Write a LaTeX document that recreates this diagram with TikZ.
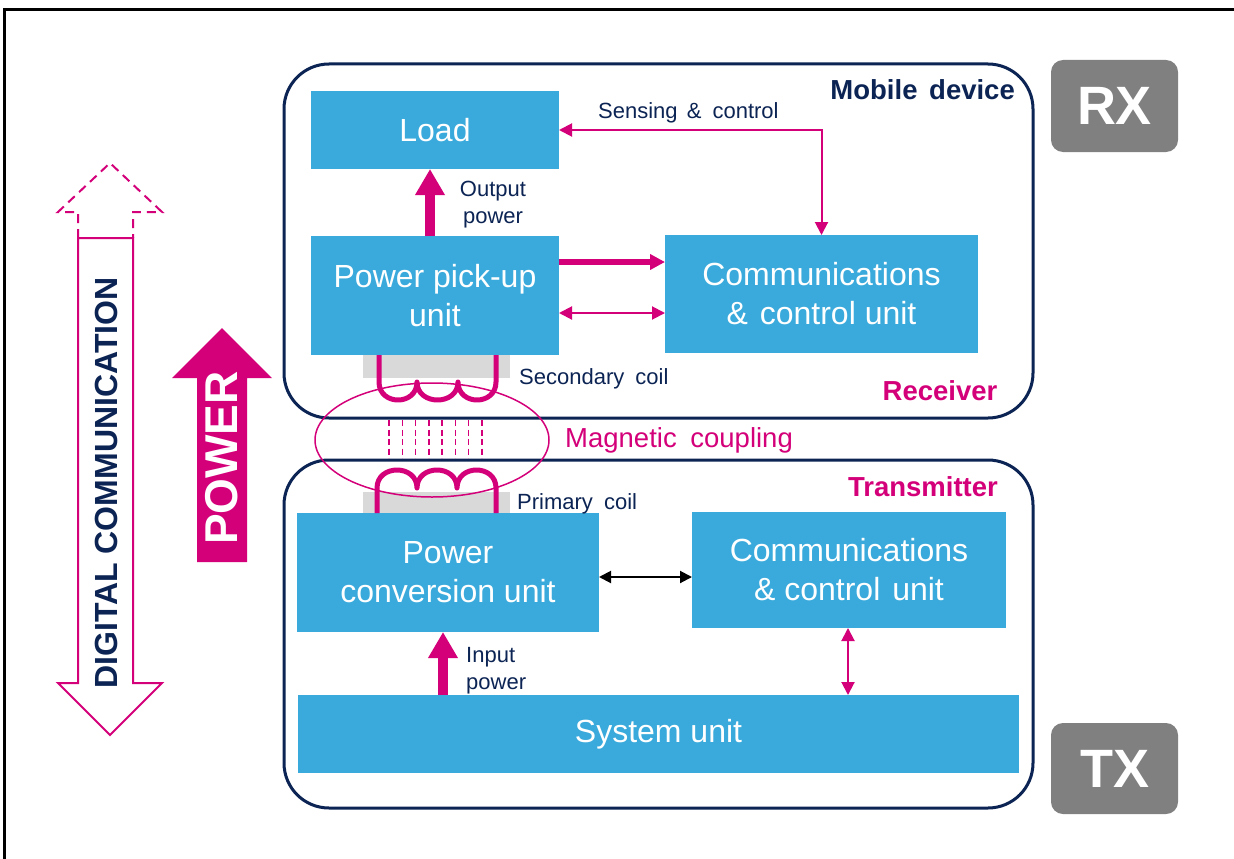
\documentclass[tikz,border=0pt]{standalone}
\usepackage{fontspec}
\setmainfont{Liberation Sans}
\usetikzlibrary{arrows.meta}
\definecolor{stblue}{RGB}{58,170,220}
\definecolor{stnavy}{RGB}{12,36,84}
\definecolor{stmag}{RGB}{212,0,122}
\definecolor{coilgray}{RGB}{217,217,217}
\definecolor{badgegray}{RGB}{128,128,128}
\begin{document}
\begin{tikzpicture}[x=1pt,y=-1pt,
  blk/.style={fill=stblue, text=white, inner sep=0pt, outer sep=0pt, align=center, font=\fontsize{32}{39}\selectfont},
  lbl/.style={text=stnavy, inner sep=0pt, font=\fontsize{22}{27}\selectfont},
  boldlbl/.style={inner sep=0pt, font=\fontsize{27.5}{30}\selectfont\bfseries},
  badge/.style={fill=badgegray, rounded corners=12pt, text=white, minimum width=127pt, minimum height=92pt, inner sep=0pt, font=\fontsize{54}{60}\selectfont\bfseries},
  container/.style={draw=stnavy, line width=3pt, rounded corners=45pt},
  fatarrow/.style={draw=stmag, line width=10pt, -{Triangle[width=28pt,length=26pt]}},
  medarrow/.style={draw=stmag, line width=5.5pt, -{Triangle[width=15pt,length=15pt]}},
  thinmag/.style={draw=stmag, line width=2pt, {Triangle[width=13pt,length=13pt]}-{Triangle[width=13pt,length=13pt]}},
  blackdbl/.style={draw=black, line width=2pt, {Triangle[width=12pt,length=12pt]}-{Triangle[width=12pt,length=12pt]}},
  coil/.style={draw=stmag, line width=5pt, line join=round},
  outline/.style={draw=stmag, line width=2pt, line join=miter}
]
\useasboundingbox (0,0) rectangle (1234,859);
\fill[white] (0,0) rectangle (1234,859);
% frame
\draw[line width=3pt, line cap=rect] (4.5,859) -- (4.5,10) -- (1234,10);

% containers
\draw[container] (284,64) rectangle (1033,418);
\draw[container] (284,460) rectangle (1033,808);

% blocks
\node[blk, minimum width=248pt, minimum height=78pt] (load) at (435,130) {Load};
\node[blk, minimum width=248pt, minimum height=119pt] (ppu) at (435,295.5) {Power pick-up\\unit};
\node[blk, minimum width=313pt, minimum height=118pt] (crx) at (821.5,294) {Communications\\\&\hspace{3pt} control unit};
\node[blk, minimum width=302pt, minimum height=119pt] (pcu) at (448,572.5) {Power\\conversion unit};
\node[blk, minimum width=314pt, minimum height=116pt] (ctx) at (849,570) {Communications\\\& control\hspace{3pt} unit};
\node[blk, minimum width=721pt, minimum height=78pt] (sys) at (658.5,734) {System unit};

% coils
\fill[coilgray] (363,355) rectangle (510,378);
\draw[coil] (379,355) -- (379,382) .. controls (379,406) and (417,406) .. (417,382)
  .. controls (417,406) and (458,406) .. (458,382)
  .. controls (458,406) and (496,406) .. (496,382) -- (496,355);
\fill[coilgray] (363,492) rectangle (510,513);
\draw[coil] (377,513) -- (377,488) .. controls (377,464) and (417,464) .. (417,488)
  .. controls (417,464) and (457,464) .. (457,488)
  .. controls (457,464) and (496,464) .. (496,488) -- (496,513);

% magnetic coupling
\foreach \x in {389,402.3,415.6,428.9,442.1,455.4,468.7,482}
  \draw[stmag, line width=1.5pt, dash pattern=on 6pt off 3.5pt] (\x,420) -- (\x,458);
\draw[stmag, line width=1.5pt] (432,440) ellipse [x radius=117, y radius=57];

% arrows
\draw[fatarrow] ([xshift=-5pt]ppu.north) -- ([xshift=-5pt]load.south);
\draw[thinmag] (load.east) -| (crx.north);
\coordinate (a1) at ([yshift=33.5pt]ppu.east);
\draw[medarrow] (a1) -- (a1 -| crx.west);
\coordinate (a2) at ([yshift=-17.5pt]ppu.east);
\draw[thinmag] (a2) -- (a2 -| crx.west);
\coordinate (a3) at ([yshift=-4.5pt]pcu.east);
\draw[blackdbl] (a3) -- (a3 -| ctx.west);
\coordinate (a4) at ([xshift=-1pt]ctx.south);
\draw[thinmag] (a4) -- (a4 |- sys.north);
\coordinate (a5) at ([xshift=-5pt]pcu.south);
\draw[fatarrow] (a5 |- sys.north) -- (a5);

% labels
\node[lbl, align=center] (outlbl) at (493,205) {Output\\power};
\node[lbl, anchor=west] (senslbl) at (598,113) {Sensing\hspace{3pt} \&\hspace{5pt} control};
\node[lbl, anchor=west] (seclbl) at (519,379) {Secondary\hspace{5pt} coil};
\node[lbl, anchor=west] (prilbl) at (517,504) {Primary\hspace{5pt} coil};
\node[lbl, align=left, anchor=west] (inlbl) at (466,671) {Input\\power};
\node[inner sep=0pt, anchor=west, text=stmag, font=\fontsize{27.5}{30}\selectfont] (maglbl) at (565,440) {Magnetic\hspace{6pt} coupling};
\node[boldlbl, anchor=east, text=stnavy] (mobile) at (1015,90) {Mobile\hspace{4pt} device};
\node[boldlbl, text=stmag] (recv) at (940,391) {Receiver};
\node[boldlbl, text=stmag] (trans) at (923,487) {Transmitter};

% badges
\node[badge] (rx) at (1114.5,106) {RX};
\node[badge, minimum height=91pt] (tx) at (1114.5,768.5) {TX};

% POWER arrow
\fill[stmag] (197,562) -- (197,378) -- (172,378) -- (222,328) -- (272,378) -- (247,378) -- (247,562) -- cycle;
\node[rotate=90, text=white, inner sep=0pt, font=\fontsize{46}{50}\selectfont\bfseries] (powerlbl) at (222,458) {POWER};

% DIGITAL COMMUNICATION arrow
\draw[outline] (78,238) -- (133,238) -- (133,683) -- (162,683) -- (110,735) -- (58,683) -- (78,683) -- cycle;
\draw[outline, dash pattern=on 9pt off 6pt] (78,238) -- (78,212) -- (58,212) -- (110,163) -- (162,212) -- (133,212) -- (133,238);
\node[rotate=90, text=stnavy, inner sep=0pt, font=\fontsize{32}{35}\selectfont\bfseries] (digi) at (106,483) {DIGITAL COMMUNICATION};
\end{tikzpicture}
\end{document}
